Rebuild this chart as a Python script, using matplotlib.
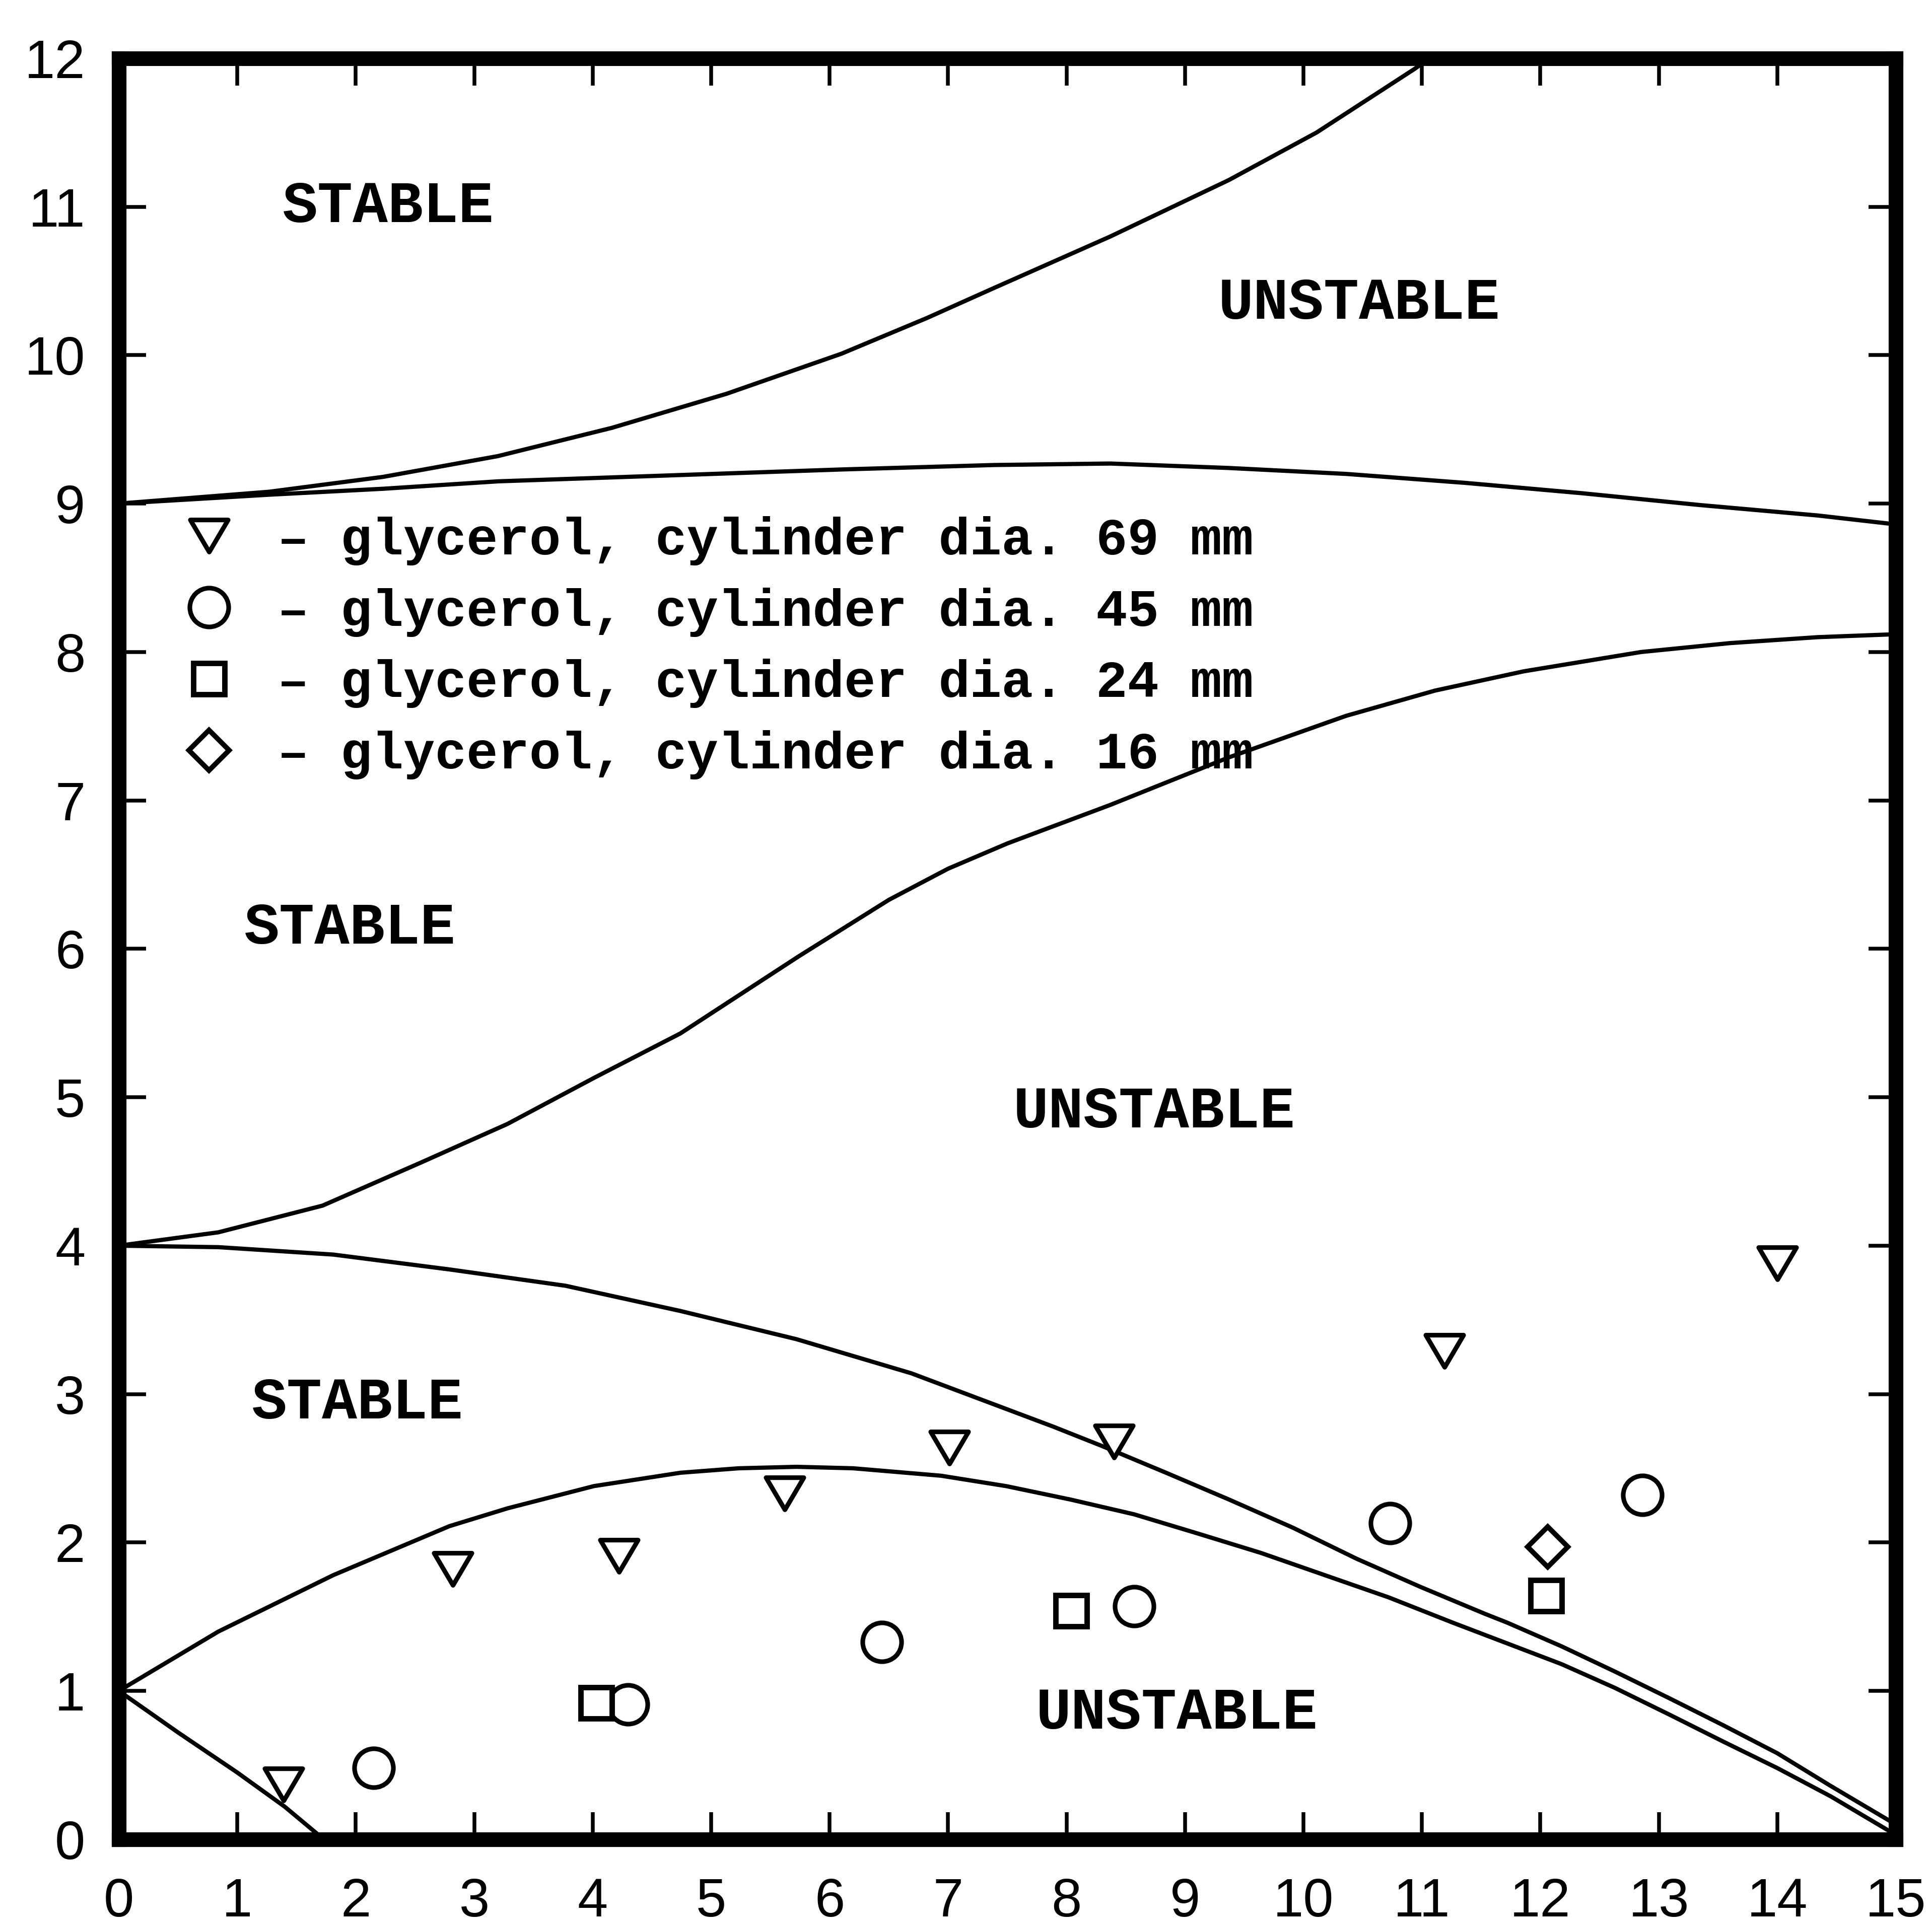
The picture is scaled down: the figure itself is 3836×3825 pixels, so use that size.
import matplotlib
matplotlib.use("Agg")
import matplotlib.pyplot as plt
from matplotlib.path import Path
from matplotlib.font_manager import FontProperties

# boundary curves of the stability chart (read points, left to right)
b1_low_x = [0.0, 0.5, 1.0, 1.4, 1.73]
b1_low_y = [1.0, 0.72, 0.45, 0.22, 0.0]

b1_up_x = [0.0, 0.84, 1.81, 2.79, 3.28, 4.01, 4.74, 5.23, 5.72, 6.2, 6.94, 7.49, 8.03,
           8.57, 9.11, 9.64, 10.18, 10.72, 11.26, 11.72, 12.18, 12.63, 13.09, 13.54,
           14.0, 14.45, 15.0]
b1_up_y = [1.0, 1.40, 1.78, 2.11, 2.23, 2.38, 2.47, 2.50, 2.51, 2.50, 2.45, 2.38, 2.29,
           2.19, 2.06, 1.93, 1.78, 1.63, 1.46, 1.32, 1.18, 1.02, 0.84, 0.66,
           0.48, 0.29, 0.03]

b2_low_x = [0.0, 0.84, 1.81, 2.79, 3.77, 4.74, 5.72, 6.69, 7.49, 7.89, 8.30, 8.84, 9.37,
            9.91, 10.45, 10.99, 11.53, 11.72, 12.18, 12.63, 13.09, 13.54, 14.0, 14.45, 15.0]
b2_low_y = [4.0, 3.99, 3.94, 3.84, 3.73, 3.56, 3.37, 3.14, 2.90, 2.78, 2.65, 2.47, 2.29,
            2.10, 1.89, 1.70, 1.52, 1.46, 1.30, 1.13, 0.95, 0.77, 0.58, 0.36, 0.10]

b2_up_x = [0.0, 0.84, 1.72, 2.55, 3.28, 4.01, 4.74, 5.74, 6.5, 7.0, 7.5, 8.37, 9.37,
           10.36, 11.11, 11.86, 12.85, 13.6, 14.34, 15.0]
b2_up_y = [4.0, 4.09, 4.27, 4.56, 4.82, 5.13, 5.43, 5.95, 6.33, 6.54, 6.71, 6.97, 7.29,
           7.57, 7.74, 7.87, 8.0, 8.06, 8.10, 8.12]

b3_low_x = [0.0, 1.27, 2.23, 3.2, 4.65, 6.1, 7.39, 8.37, 9.37, 10.36, 11.36, 12.35,
            13.35, 14.34, 15.0]
b3_low_y = [9.0, 9.06, 9.10, 9.15, 9.19, 9.23, 9.26, 9.27, 9.24, 9.20, 9.14, 9.07,
            8.99, 8.92, 8.86]

b3_up_x = [0.0, 1.27, 2.23, 3.2, 4.16, 5.13, 6.1, 6.82, 7.38, 8.37, 9.37, 10.11, 10.94, 11.2]
b3_up_y = [9.0, 9.08, 9.18, 9.32, 9.51, 9.74, 10.01, 10.25, 10.45, 10.80, 11.18, 11.50,
           11.93, 12.08]

# measurements, glycerol
d69_x = [1.39, 2.82, 4.22, 5.62, 7.01, 8.40, 11.19, 14.00]
d69_y = [0.37, 1.82, 1.91, 2.33, 2.64, 2.68, 3.29, 3.88]
d45_x = [2.15, 4.30, 6.44, 8.57, 10.73, 12.86]
d45_y = [0.48, 0.91, 1.33, 1.57, 2.13, 2.32]
d24_x = [4.03, 8.04, 12.05]
d24_y = [0.92, 1.54, 1.64]
d16_x = [12.06]
d16_y = [1.97]

series_labels = [
    "\u2013 glycerol, cylinder dia. 69 mm",
    "\u2013 glycerol, cylinder dia. 45 mm",
    "\u2013 glycerol, cylinder dia. 24 mm",
    "\u2013 glycerol, cylinder dia. 16 mm",
]

region_text = ["STABLE", "UNSTABLE", "STABLE", "UNSTABLE", "STABLE", "UNSTABLE"]
region_pos = [(1.38, 11.0), (9.28, 10.35), (1.06, 6.14), (7.55, 4.9), (1.12, 2.94), (7.74, 0.85)]

x_ticks = list(range(0, 16))
y_ticks = list(range(0, 13))

plt.rcParams["font.family"] = ["Liberation Sans Narrow", "Liberation Sans", "DejaVu Sans"]

fig = plt.figure(figsize=(3837 / 300, 3825 / 300), dpi=300)
ax = fig.add_axes([0.0615, 0.045, 0.9195, 0.9247])

line_kw = dict(color="black", lw=2.0, solid_capstyle="butt", solid_joinstyle="round")
for xs, ys in [(b1_low_x, b1_low_y), (b1_up_x, b1_up_y), (b2_low_x, b2_low_y),
               (b2_up_x, b2_up_y), (b3_low_x, b3_low_y), (b3_up_x, b3_up_y)]:
    ax.plot(xs, ys, **line_kw)

# flattened downward triangle
tri = Path([(-1, 0.85), (1, 0.85), (0, -0.85), (-1, 0.85)],
           [Path.MOVETO, Path.LINETO, Path.LINETO, Path.CLOSEPOLY])

mk = dict(ls="none", mfc="white", mec="black", clip_on=False)
h69, = ax.plot(d69_x, d69_y, marker=tri, ms=18, mew=2.2, **mk)
h45, = ax.plot(d45_x, d45_y, marker="o", ms=18.5, mew=2.2, **mk)
h24, = ax.plot(d24_x, d24_y, marker="s", ms=15, mew=2.6, **mk)
h16, = ax.plot(d16_x, d16_y, marker="D", ms=13.5, mew=2.4, **mk)

mono = FontProperties(family="Liberation Mono", weight="bold", size=25)
ax.legend([h69, h45, h24, h16], series_labels, loc="upper left",
          bbox_to_anchor=(0.0361, 0.743), frameon=False, borderpad=0,
          borderaxespad=0, handlelength=1.0, handletextpad=0.8,
          labelspacing=0.42, prop=mono)

region_font = FontProperties(family="Liberation Mono", weight="bold", size=28)
for txt, (tx, ty) in zip(region_text, region_pos):
    ax.text(tx, ty, txt, ha="left", va="center", fontproperties=region_font)

ax.set_xlim(0, 15)
ax.set_ylim(0, 12)
ax.set_xticks(x_ticks)
ax.set_yticks(y_ticks)
ax.tick_params(direction="in", length=13, width=1.8, top=True, right=True,
               labelsize=26)
ax.tick_params(axis="x", pad=18)
ax.tick_params(axis="y", pad=16)
for sp in ax.spines.values():
    sp.set_linewidth(7.0)

fig.savefig("out.png", dpi=300)
